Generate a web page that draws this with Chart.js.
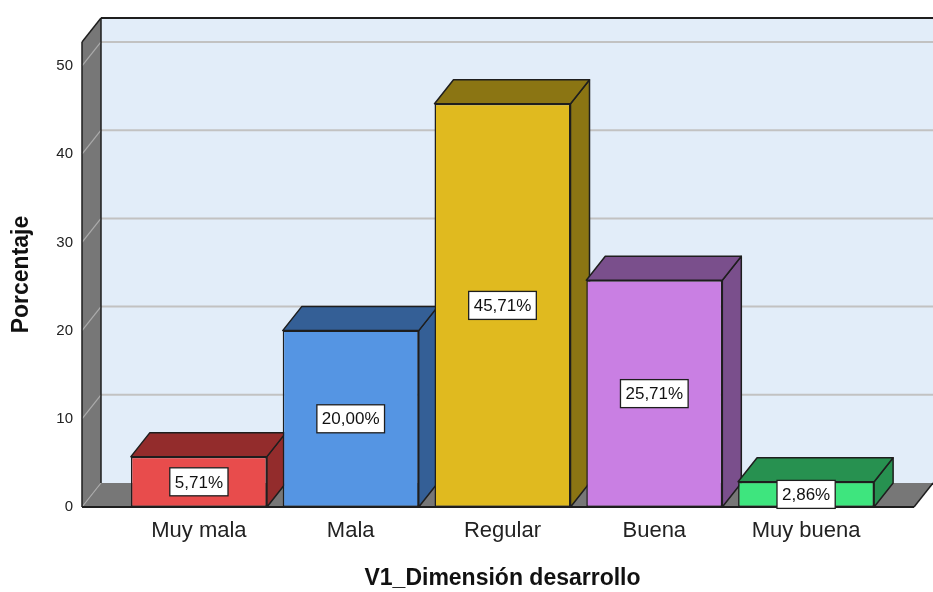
<!DOCTYPE html>
<html lang="es">

<head>
    <meta charset="UTF-8">
    <title>V1_Dimensión desarrollo</title>
    <script src="https://cdn.jsdelivr.net/npm/chart.js"></script>
    <style>
        body { margin: 0; background: #ffffff; }
        #grafico { display: block; }
    </style>
</head>

<body>
    <canvas id="grafico" width="933" height="592"></canvas>

    <script>
        // datos
        const categorias = ['Muy mala', 'Mala', 'Regular', 'Buena', 'Muy buena'];
        const porcentajes = [5.71, 20.00, 45.71, 25.71, 2.86];
        const marcasY = [0, 10, 20, 30, 40, 50];
        const maxEje = 52.72;

        const coloresFrente = ['#e84c4c', '#5595e3', '#e0ba1f', '#c97fe3', '#3ee57e'];
        const coloresOscuros = ['#932c2c', '#345f96', '#8b7513', '#7a4f8c', '#279150'];

        // profundidad del efecto 3D
        const profX = 19;
        const profY = 24;
        const margenIzq = 41;
        const margenDer = 32;
        const borde = '#1e1e1e';

        function poligono(ctx, puntos, relleno) {
            ctx.beginPath();
            ctx.moveTo(puntos[0][0], puntos[0][1]);
            for (let i = 1; i < puntos.length; i++) {
                ctx.lineTo(puntos[i][0], puntos[i][1]);
            }
            ctx.closePath();
            ctx.fillStyle = relleno;
            ctx.fill();
        }

        function linea(ctx, x1, y1, x2, y2, color, ancho) {
            ctx.beginPath();
            ctx.moveTo(x1, y1);
            ctx.lineTo(x2, y2);
            ctx.strokeStyle = color;
            ctx.lineWidth = ancho;
            ctx.stroke();
        }

        const caja3d = {
            id: 'caja3d',
            beforeDatasetsDraw(chart) {
                const ctx = chart.ctx;
                const area = chart.chartArea;
                const y = chart.scales.y;
                const izq = area.left - margenIzq;
                const der = area.right + margenDer;
                const arriba = area.top;
                const abajo = area.bottom;

                ctx.save();
                // pared del fondo
                poligono(ctx, [[izq + profX, arriba - profY], [der + profX, arriba - profY],
                    [der + profX, abajo - profY], [izq + profX, abajo - profY]], '#e2edf9');
                // pared lateral
                poligono(ctx, [[izq, arriba], [izq + profX, arriba - profY],
                    [izq + profX, abajo - profY], [izq, abajo]], '#777777');
                // piso
                poligono(ctx, [[izq, abajo], [der, abajo], [der + profX, abajo - profY],
                    [izq + profX, abajo - profY]], '#777777');

                // lineas de cuadricula
                marcasY.forEach(v => {
                    const py = y.getPixelForValue(v);
                    if (v > 0) {
                        linea(ctx, izq + profX, py - profY, der + profX, py - profY, '#c2c2c2', 2);
                    }
                    linea(ctx, izq, py, izq + profX, py - profY, '#ababab', 1.2);
                });

                // bordes
                linea(ctx, izq + profX, arriba - profY, der + profX, arriba - profY, borde, 2);
                linea(ctx, izq, arriba, izq + profX, arriba - profY, borde, 1.5);
                linea(ctx, izq, arriba, izq, abajo, borde, 1.5);
                linea(ctx, izq + profX, arriba - profY, izq + profX, abajo - profY, borde, 1.5);
                linea(ctx, izq, abajo, der, abajo, borde, 2);
                linea(ctx, der, abajo, der + profX, abajo - profY, borde, 1.5);

                // caras superior y lateral de cada barra
                const barras = chart.getDatasetMeta(0).data;
                barras.forEach((barra, i) => {
                    const p = barra.getProps(['x', 'y', 'base', 'width'], true);
                    const l = p.x - p.width / 2;
                    const r = p.x + p.width / 2;
                    const lado = [[r, p.y], [r + profX, p.y - profY], [r + profX, p.base - profY], [r, p.base]];
                    const tapa = [[l, p.y], [l + profX, p.y - profY], [r + profX, p.y - profY], [r, p.y]];
                    [lado, tapa].forEach(cara => {
                        poligono(ctx, cara, coloresOscuros[i]);
                        ctx.strokeStyle = borde;
                        ctx.lineWidth = 1.5;
                        ctx.lineJoin = 'round';
                        ctx.stroke();
                    });
                });
                ctx.restore();
            },
            afterDatasetsDraw(chart) {
                const ctx = chart.ctx;
                const barras = chart.getDatasetMeta(0).data;
                ctx.save();
                ctx.font = '17px "Liberation Sans", Arial, sans-serif';
                ctx.textAlign = 'center';
                ctx.textBaseline = 'middle';
                barras.forEach((barra, i) => {
                    const p = barra.getProps(['x', 'y', 'base'], true);
                    const texto = porcentajes[i].toFixed(2).replace('.', ',') + '%';
                    const cy = (p.y + p.base) / 2;
                    const w = ctx.measureText(texto).width + 10;
                    const h = 28;
                    ctx.fillStyle = '#ffffff';
                    ctx.fillRect(p.x - w / 2, cy - h / 2, w, h);
                    ctx.strokeStyle = borde;
                    ctx.lineWidth = 1.3;
                    ctx.strokeRect(p.x - w / 2, cy - h / 2, w, h);
                    ctx.fillStyle = '#111111';
                    ctx.fillText(texto, p.x, cy + 1);
                });
                ctx.restore();
            }
        };

        const data = {
            labels: categorias,
            datasets: [{
                data: porcentajes,
                backgroundColor: coloresFrente,
                borderColor: borde,
                borderWidth: 1.5,
                borderSkipped: false,
                barPercentage: 0.896,
                categoryPercentage: 1
            }]
        };

        const config = {
            type: 'bar',
            data: data,
            plugins: [caja3d],
            options: {
                responsive: false,
                devicePixelRatio: 1,
                animation: false,
                layout: { padding: { left: 0, right: 51, top: 42, bottom: 0 } },
                plugins: {
                    legend: { display: false },
                    tooltip: { enabled: false }
                },
                scales: {
                    x: {
                        grid: { display: false, drawTicks: false },
                        border: { display: false },
                        ticks: {
                            color: '#222222',
                            padding: 11,
                            maxRotation: 0,
                            autoSkip: false,
                            font: { family: '"Liberation Sans", Arial, sans-serif', size: 22 }
                        },
                        title: {
                            display: true,
                            text: 'V1_Dimensión desarrollo',
                            color: '#111111',
                            padding: { top: 0, bottom: 0 },
                            font: { family: '"Liberation Sans", Arial, sans-serif', size: 23, weight: 'bold' }
                        },
                        afterFit(scale) { scale.height = 85; }
                    },
                    y: {
                        min: 0,
                        max: maxEje,
                        grid: { display: false, drawTicks: false },
                        border: { display: false },
                        ticks: {
                            stepSize: 10,
                            color: '#222222',
                            padding: 50,
                            font: { family: '"Liberation Sans", Arial, sans-serif', size: 15 }
                        },
                        afterBuildTicks(scale) {
                            scale.ticks = marcasY.map(v => ({ value: v }));
                        },
                        title: {
                            display: true,
                            text: 'Porcentaje',
                            color: '#111111',
                            padding: { top: 8, bottom: 0 },
                            font: { family: '"Liberation Sans", Arial, sans-serif', size: 23, weight: 'bold' }
                        },
                        afterFit(scale) {
                            scale.width = 123;
                            scale.paddingTop = 0;
                            scale.paddingBottom = 0;
                        }
                    }
                }
            }
        };

        const grafico = new Chart(document.getElementById('grafico'), config);
    </script>
</body>

</html>
